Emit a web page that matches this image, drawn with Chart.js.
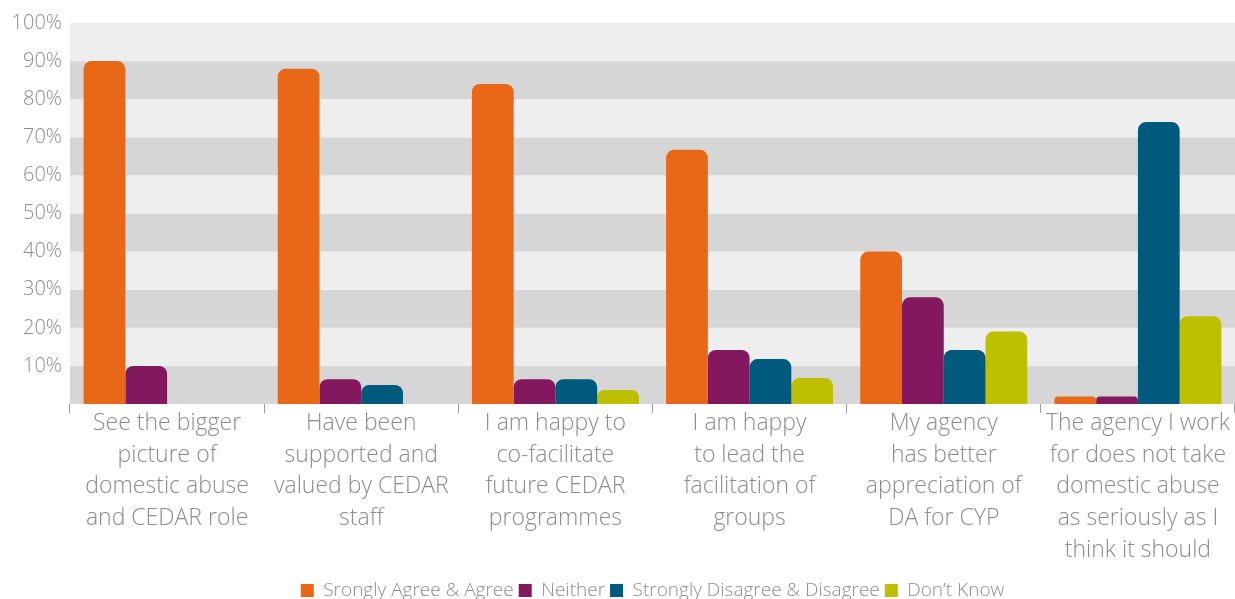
<!DOCTYPE html>
<html lang="en">
<head>
  <meta charset="UTF-8">
  <title>CEDAR survey chart</title>
  <style>
    html, body { margin: 0; padding: 0; background: #fff; }
    #wrap { width: 1235px; height: 599px; }
  </style>
</head>
<body>
<div id="wrap">
  <canvas id="chart" width="1235" height="599"></canvas>
</div>

<script src="https://cdn.jsdelivr.net/npm/chart.js"></script>
<script>
  // categories (multi-line labels) and the four answer series, in percent
  const categories = [
    ['See the bigger', 'picture of', 'domestic abuse', 'and CEDAR role'],
    ['Have been', 'supported and', 'valued by CEDAR', 'staff'],
    ['I am happy to', 'co-facilitate', 'future CEDAR', 'programmes'],
    ['I am happy', 'to lead the', 'facilitation of', 'groups'],
    ['My agency', 'has better', 'appreciation of', 'DA for CYP'],
    ['The agency I work', 'for does not take', 'domestic abuse', 'as seriously as I', 'think it should']
  ];
  const seriesNames = ['Srongly Agree & Agree', 'Neither', 'Strongly Disagree & Disagree', 'Don\u2019t Know'];
  const agree    = [90, 88, 84, 66.7, 40, 2];
  const neither  = [10, 6.5, 6.5, 14.2, 28, 2];
  const disagree = [0, 5, 6.5, 11.8, 14.2, 74];
  const dontKnow = [0, 0, 3.7, 6.8, 19, 23];
  const yTicks = [0, 10, 20, 30, 40, 50, 60, 70, 80, 90, 100];

  const colours = ['#e96817', '#84185f', '#005a7d', '#bdbf00'];
  const textGrey = '#8c8c8c';
  const fontFamily = '"Open Sans", "Noto Sans", sans-serif';

  // alternating grey bands behind the bars
  const bandsPlugin = {
    id: 'bands',
    beforeDraw(chart) {
      const { ctx, chartArea, scales } = chart;
      const y = scales.y;
      ctx.save();
      for (let i = 0; i < yTicks.length - 1; i++) {
        const top = y.getPixelForValue(yTicks[i + 1]);
        const bottom = y.getPixelForValue(yTicks[i]);
        ctx.fillStyle = (i % 2 === 0) ? '#d6d6d6' : '#eeeeee';
        ctx.fillRect(chartArea.left, top, chartArea.right - chartArea.left, bottom - top);
      }
      ctx.restore();
    }
  };

  const values = [agree, neither, disagree, dontKnow];
  const datasets = seriesNames.map((name, i) => ({
    label: name,
    data: values[i],
    backgroundColor: colours[i],
    borderRadius: 8,
    borderSkipped: 'start',
    barPercentage: 1,
    categoryPercentage: 0.86
  }));

  new Chart(document.getElementById('chart'), {
    type: 'bar',
    data: { labels: categories, datasets: datasets },
    options: {
      responsive: false,
      animation: false,
      layout: { padding: { top: 23, right: 0, left: 0, bottom: -11 } },
      plugins: {
        tooltip: { enabled: false },
        legend: {
          position: 'bottom',
          fullSize: false,
          labels: {
            boxWidth: 13,
            boxHeight: 13,
            padding: 5,
            color: textGrey,
            font: { family: fontFamily, size: 19, weight: '300' }
          }
        }
      },
      scales: {
        x: {
          border: { display: false },
          grid: {
            offset: true,
            drawOnChartArea: false,
            drawTicks: true,
            tickLength: 9,
            color: '#9a9a9a'
          },
          ticks: {
            color: textGrey,
            padding: -6,
            maxRotation: 0,
            autoSkip: false,
            font: { family: fontFamily, size: 23, weight: '300', lineHeight: 1.39 }
          },
          afterFit: s => { s.height = 172; }
        },
        y: {
          min: 0,
          max: 100,
          border: { display: false },
          grid: { display: false },
          ticks: {
            stepSize: 10,
            padding: 0,
            color: textGrey,
            font: { family: fontFamily, size: 20, weight: '300' },
            callback: v => v === 0 ? '' : v + '%'
          },
          afterFit: s => { s.width = 70; }
        }
      }
    },
    plugins: [bandsPlugin]
  });
</script>
</body>
</html>
